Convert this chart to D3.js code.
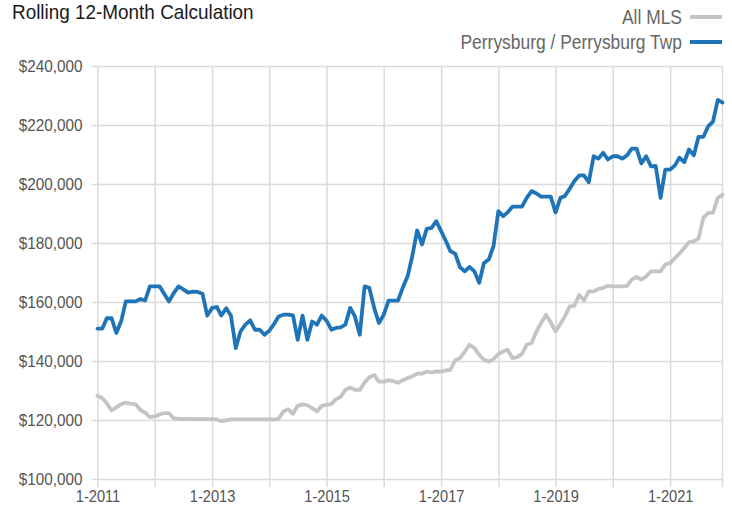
<!DOCTYPE html>
<html>
<head>
<meta charset="utf-8">
<script src="https://cdn.jsdelivr.net/npm/d3@7"></script>
<style>
  html, body { margin: 0; padding: 0; background: #fff; }
  svg { display: block; }
  text { font-family: "Liberation Sans", Arial, sans-serif; }
</style>
</head>
<body>
<svg id="chart" width="732" height="514"></svg>
<script>
// Rolling 12-month median sale price, monthly from Jan 2011 to Dec 2021 (values in $ thousands)
const startMonth = new Date(2011, 0, 1);
const endMonth = new Date(2021, 11, 1);
const months = d3.timeMonth.range(startMonth, d3.timeMonth.offset(endMonth, 1));

const allMLS = [
  128.2, 127.4, 125.7, 123.2, 124.3, 125.4, 125.9, 125.5, 125.4, 123.4, 122.5, 121.0,
  121.2, 121.9, 122.3, 122.3, 120.6, 120.4, 120.4, 120.4, 120.3, 120.3, 120.3, 120.3,
  120.3, 120.2, 119.6, 119.9, 120.2, 120.2, 120.2, 120.2, 120.2, 120.2, 120.2, 120.2,
  120.2, 120.2, 120.4, 122.9, 123.7, 122.1, 124.8, 125.3, 125.0, 124.0, 122.9, 124.8,
  125.2, 125.4, 127.0, 127.8, 130.2, 131.0, 130.2, 130.2, 132.7, 134.5, 135.3, 133.0,
  133.0, 133.5, 133.2, 132.6, 133.5, 134.2, 134.8, 135.7, 135.7, 136.4, 136.1, 136.5,
  136.4, 136.8, 137.0, 140.2, 141.0, 143.2, 145.5, 144.4, 142.1, 140.4, 139.8, 140.6,
  142.4, 143.2, 143.8, 141.0, 141.3, 142.4, 145.5, 146.1, 150.0, 152.9, 155.7, 153.1,
  150.0, 152.6, 155.1, 158.5, 158.7, 162.4, 160.5, 163.6, 163.6, 164.4, 164.8, 165.5,
  165.3, 165.3, 165.3, 165.5, 167.6, 168.5, 167.6, 168.7, 170.4, 170.4, 170.4, 172.7,
  173.2, 174.9, 176.4, 178.3, 180.3, 180.6, 181.5, 188.5, 190.2, 190.2, 195.3, 196.4
];

const perrysburg = [
  151.0, 151.0, 154.5, 154.5, 149.5, 153.5, 160.2, 160.2, 160.2, 161.0, 160.5, 165.3,
  165.3, 165.3, 162.8, 160.2, 163.0, 165.3, 164.3, 163.2, 163.5, 163.4, 162.8, 155.4,
  158.0, 158.3, 155.4, 157.9, 155.4, 144.4, 150.0, 152.3, 153.8, 150.6, 150.6, 148.9,
  150.3, 152.6, 155.1, 155.7, 155.7, 155.5, 147.2, 155.4, 147.2, 153.4, 152.3, 155.4,
  153.7, 150.6, 151.2, 151.4, 152.3, 158.0, 155.1, 148.9, 165.3, 164.8, 158.0, 152.9,
  155.7, 160.5, 160.5, 160.5, 164.8, 168.7, 175.5, 184.3, 179.5, 184.8, 185.1, 187.4,
  184.0, 180.6, 177.2, 176.4, 171.8, 170.4, 171.9, 170.4, 166.5, 173.2, 174.4, 178.9,
  190.8, 189.1, 190.4, 192.3, 192.3, 192.3, 195.3, 197.6, 196.8, 195.7, 195.7, 195.7,
  190.4, 195.3, 195.9, 198.4, 201.0, 202.9, 202.9, 200.6, 209.4, 208.6, 210.6, 208.3,
  209.4, 209.4, 208.6, 209.7, 212.0, 212.0, 207.0, 209.4, 206.0, 206.1, 195.3, 204.9,
  204.9, 206.3, 208.9, 207.4, 211.7, 209.7, 216.0, 216.0, 219.6, 221.1, 228.5, 227.6
];

const seriesNames = ["All MLS", "Perrysburg / Perrysburg Twp"];
const seriesColors = ["#c4c4c4", "#1f74b7"];
const yTicks = [100000, 120000, 140000, 160000, 180000, 200000, 220000, 240000];
const xLabelYears = [2011, 2013, 2015, 2017, 2019, 2021];
const titleText = "Rolling 12-Month Calculation";

const svg = d3.select("#chart");

const plot = { left: 97.5, right: 722.5, top: 66, bottom: 479 };

// Squeeze text horizontally to get a condensed face from the regular sans
function condense(sel, factor) {
  sel.each(function () {
    const w = this.getComputedTextLength();
    if (w > 0) {
      d3.select(this)
        .attr("textLength", w * factor)
        .attr("lengthAdjust", "spacingAndGlyphs");
    }
  });
}

const x = d3.scaleTime()
  .domain([startMonth, endMonth])
  .range([plot.left, plot.right]);

const y = d3.scaleLinear()
  .domain([100000, 240000])
  .range([plot.bottom, plot.top]);

const gridColor = "#dadada";

// Horizontal grid + y labels
const yAxis = d3.axisLeft(y)
  .tickValues(yTicks)
  .tickSize(-(plot.right - plot.left + 6))
  .tickPadding(9)
  .tickFormat(d => "$" + d3.format(",")(d));

const gy = svg.append("g")
  .attr("transform", `translate(${plot.left - 6},0)`)
  .call(yAxis);
gy.select(".domain").remove();
gy.selectAll(".tick line").attr("stroke", gridColor).attr("stroke-width", 1.5)
  .attr("x1", 0);
gy.selectAll(".tick text")
  .attr("fill", "#555")
  .attr("font-size", 17)
  .attr("x", -9)
  .call(condense, 0.9);

// Vertical grid at each January + labels every other year
const yearTicks = d3.timeYear.range(startMonth, new Date(2022, 0, 1));
const xAxis = d3.axisBottom(x)
  .tickValues(yearTicks)
  .tickSize(-(plot.bottom - plot.top) - 8)
  .tickPadding(14)
  .tickFormat(d => xLabelYears.includes(d.getFullYear()) ? "1-" + d.getFullYear() : "");

const gx = svg.append("g")
  .attr("transform", `translate(0,${plot.bottom + 8})`)
  .call(xAxis);
gx.select(".domain").remove();
gx.selectAll(".tick line").attr("stroke", gridColor).attr("stroke-width", 1.5);
gx.selectAll(".tick text")
  .attr("fill", "#555")
  .attr("font-size", 17)
  .attr("y", 3)
  .attr("dy", "0.71em")
  .call(condense, 0.86);

// Right edge line
svg.append("line")
  .attr("x1", x(endMonth)).attr("x2", x(endMonth))
  .attr("y1", plot.top).attr("y2", plot.bottom + 8)
  .attr("stroke", gridColor).attr("stroke-width", 1.5);

// Series lines
const line = d3.line()
  .x((d, i) => x(months[i]))
  .y(d => y(d * 1000));

[allMLS, perrysburg].forEach((vals, k) => {
  svg.append("path")
    .datum(vals)
    .attr("fill", "none")
    .attr("stroke", seriesColors[k])
    .attr("stroke-width", 3.8)
    .attr("stroke-linejoin", "round")
    .attr("stroke-linecap", "round")
    .attr("d", line);
});

// Title
svg.append("text")
  .attr("x", 12)
  .attr("y", 19)
  .attr("font-size", 21)
  .attr("fill", "#1a1a1a")
  .text(titleText)
  .call(condense, 0.9);

// Legend
const legend = svg.append("g");
seriesNames.forEach((name, k) => {
  const ly = 17 + k * 25;
  legend.append("text")
    .attr("x", 682)
    .attr("y", ly)
    .attr("dy", "0.35em")
    .attr("text-anchor", "end")
    .attr("font-size", 21)
    .attr("fill", "#666")
    .text(name)
    .call(condense, 0.83);
  legend.append("line")
    .attr("x1", 690).attr("x2", 722)
    .attr("y1", ly).attr("y2", ly)
    .attr("stroke", seriesColors[k])
    .attr("stroke-width", 4);
});
</script>
</body>
</html>
